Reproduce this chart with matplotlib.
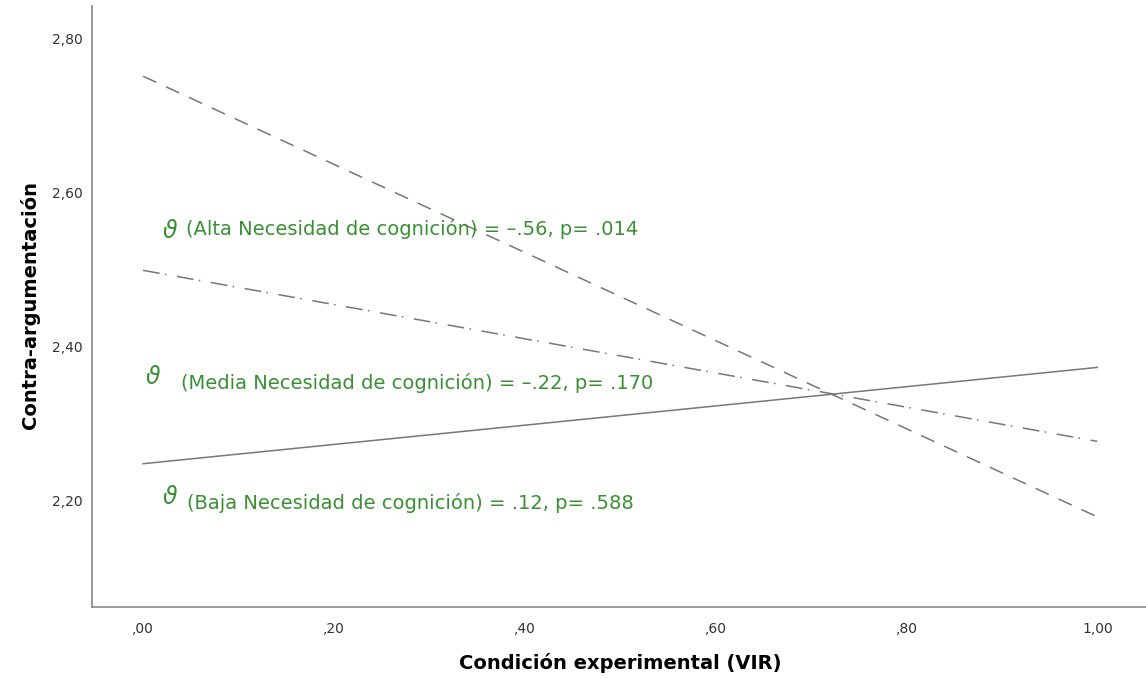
import numpy as np
import matplotlib
matplotlib.use("Agg")
import matplotlib.pyplot as plt
from matplotlib.ticker import FuncFormatter

plt.rcParams["font.family"] = ["DejaVu Sans"]

# datos
condicion = [0.0, 1.0]
baja = [2.248, 2.373]
media = [2.499, 2.277]
alta = [2.751, 2.179]

anotaciones = [
    ("(Alta Necesidad de cognición) = –.56, p= .014", 0.045, 2.545),
    ("(Media Necesidad de cognición) = –.22, p= .170", 0.040, 2.345),
    ("(Baja Necesidad de cognición) = .12, p= .588", 0.046, 2.189),
]
theta_pos = [(0.021, 2.541), (0.003, 2.352), (0.020, 2.196)]

verde = "#3a8f35"
gris = "#777777"

fig = plt.figure(figsize=(11.46, 6.78), dpi=100)
ax = fig.add_axes([0.0803, 0.1047, 0.9197, 0.8863])

ax.plot(condicion, baja, color=gris, lw=1.1, linestyle="-")
ax.plot(condicion, media, color=gris, lw=1.1, linestyle=(0, (11, 3.5, 1, 7)))
ax.plot(condicion, alta, color=gris, lw=1.1, linestyle=(0, (9.5, 7)))

for (txt, x, y), (tx, ty) in zip(anotaciones, theta_pos):
    ax.text(tx, ty, "ϑ", color=verde, fontsize=17, style="italic", va="baseline")
    ax.text(x, y, txt, color=verde, fontsize=14, va="baseline")

ax.set_xlim(-0.0535, 1.051)
ax.set_ylim(2.062, 2.842)
ax.set_xticks([0, 0.2, 0.4, 0.6, 0.8, 1.0])
ax.set_yticks([2.2, 2.4, 2.6, 2.8])

def fmt_x(v, pos):
    s = "%.2f" % v
    s = s.replace(".", ",")
    if s.startswith("0"):
        s = s[1:]
    return s

ax.xaxis.set_major_formatter(FuncFormatter(fmt_x))
ax.yaxis.set_major_formatter(FuncFormatter(lambda v, p: ("%.2f" % v).replace(".", ",")))
ax.tick_params(length=0, labelsize=10, colors="#333333")
ax.tick_params(axis="y", pad=7)
ax.tick_params(axis="x", pad=11)

for s in ["top", "right"]:
    ax.spines[s].set_visible(False)
for s in ["left", "bottom"]:
    ax.spines[s].set_color("#888888")
    ax.spines[s].set_linewidth(1.2)

ax.set_xlabel("Condición experimental (VIR)", fontsize=14, fontweight="bold")
ax.set_ylabel("Contra-argumentación", fontsize=14, fontweight="bold")
ax.xaxis.set_label_coords(0.501, -0.077)
ax.yaxis.set_label_coords(-0.049, 0.502)

fig.savefig("out.png", dpi=100)
